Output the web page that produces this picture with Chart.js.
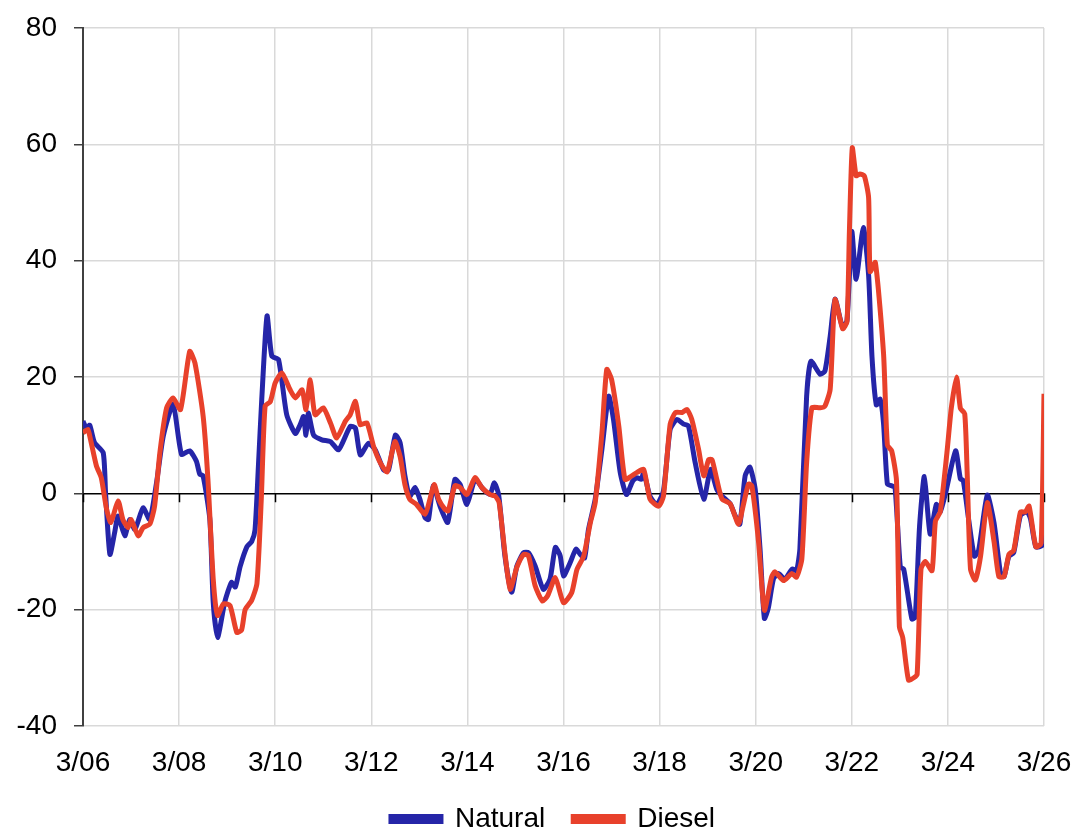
<!DOCTYPE html>
<html>
<head>
<meta charset="utf-8">
<script src="https://cdn.jsdelivr.net/npm/chart.js@4/dist/chart.umd.min.js"></script>
<style>
  html, body { margin: 0; padding: 0; background: #fff; }
  #wrap { width: 1076px; height: 832px; }
</style>
</head>
<body>
<div id="wrap"><canvas id="chart" width="1076" height="832"></canvas></div>
<script>
// x = years since 3/06
const xTickLabels = ['3/06', '3/08', '3/10', '3/12', '3/14', '3/16', '3/18', '3/20', '3/22', '3/24', '3/26'];
const yTicks = [-40, -20, 0, 20, 40, 60, 80];

const natT = [0, 0.07, 0.14, 0.24, 0.42, 0.47, 0.56, 0.66, 0.73, 0.87, 0.97, 1.08, 1.25, 1.39, 1.53, 1.67, 1.875, 2.05, 2.22, 2.36, 2.43, 2.5, 2.64, 2.71, 2.8, 2.95, 3.09, 3.17, 3.27, 3.41, 3.51, 3.58, 3.65, 3.72, 3.83, 3.93, 4.07, 4.24, 4.42, 4.52, 4.59, 4.64, 4.69, 4.8, 4.97, 5.15, 5.32, 5.56, 5.67, 5.77, 5.94, 6.08, 6.26, 6.36, 6.5, 6.6, 6.7, 6.8, 6.91, 7.01, 7.12, 7.19, 7.29, 7.43, 7.59, 7.74, 7.85, 7.99, 8.16, 8.33, 8.47, 8.56, 8.65, 8.78, 8.92, 9.03, 9.17, 9.27, 9.41, 9.58, 9.72, 9.83, 9.93, 10.0, 10.14, 10.26, 10.35, 10.44, 10.52, 10.66, 10.8, 10.94, 11.04, 11.18, 11.31, 11.44, 11.53, 11.62, 11.67, 11.8, 11.94, 12.08, 12.22, 12.36, 12.5, 12.6, 12.74, 12.92, 13.06, 13.19, 13.29, 13.47, 13.57, 13.67, 13.78, 13.88, 13.99, 14.09, 14.18, 14.26, 14.37, 14.47, 14.61, 14.76, 14.85, 14.92, 15.06, 15.15, 15.34, 15.44, 15.55, 15.65, 15.81, 15.9, 16.0, 16.09, 16.24, 16.35, 16.42, 16.51, 16.59, 16.66, 16.74, 16.83, 16.9, 17.01, 17.08, 17.25, 17.32, 17.41, 17.51, 17.63, 17.76, 17.84, 17.95, 18.16, 18.26, 18.32, 18.43, 18.55, 18.64, 18.82, 18.96, 19.1, 19.17, 19.27, 19.37, 19.51, 19.65, 19.72, 19.83, 19.97, 20.0];
const natV = [12.4, 11.3, 11.7, 8.7, 7, 0, -10.5, -6.7, -3.9, -7.3, -4.5, -6.2, -2.5, -4.5, 1.8, 9.8, 15.3, 6.7, 7.3, 5.5, 3.3, 3, -4.5, -18.7, -24.8, -18.7, -15.3, -16.1, -12.6, -9.2, -8.3, -6.3, 4.6, 16.1, 30.5, 23.6, 23, 13.5, 10.3, 11.8, 13.2, 10, 13.8, 10, 9.2, 8.9, 7.5, 11.5, 11.2, 6.6, 8.6, 7.5, 4, 4, 10, 8.7, 3, -0.5, 1, -1, -4.2, -4.5, 1.3, -2.2, -5, 2.4, 1.5, -1.9, 2.4, 0.7, -0.2, 1.8, -0.2, -10.7, -17, -12.5, -10.2, -10.2, -12.5, -16.5, -14.7, -9.3, -10.7, -14.2, -11.9, -9.6, -10.5, -11.1, -6.2, -1, 7.6, 16.7, 12.7, 3.6, -0.2, 2.1, 2.7, 2.4, 3.6, -0.5, -1.9, 0.4, 11, 12.7, 11.9, 11.6, 5.3, -1, 4.1, 0.7, -0.4, -1.8, -3.8, -5.3, 3, 4.5, 0.7, -9.5, -21.5, -19.8, -14.7, -13.8, -14.7, -13, -13.3, -9.5, 16.7, 22.7, 20.5, 21, 27, 33.4, 28.5, 29.7, 45, 36.8, 45.7, 37.5, 23.5, 15.2, 16.2, 12.1, 1.6, 1.3, 1.0, -12.7, -13, -21.6, -21.3, -5.7, 2.9, -7, -1.9, -3.2, 0, 7.3, 2.5, 2.2, -4.4, -10.8, -9.8, -0.3, -5.1, -14, -14.3, -10.8, -10.2, -3.8, -3.2, -4.4, -9.2, -8.9, 4];

const dieT = [0, 0.1, 0.15, 0.28, 0.38, 0.49, 0.58, 0.73, 0.83, 0.94, 1.0, 1.15, 1.25, 1.39, 1.49, 1.6, 1.74, 1.875, 2.03, 2.22, 2.33, 2.5, 2.6, 2.71, 2.8, 2.92, 3.06, 3.2, 3.3, 3.375, 3.51, 3.62, 3.71, 3.79, 3.9, 4.0, 4.14, 4.31, 4.42, 4.56, 4.64, 4.73, 4.83, 5.0, 5.15, 5.28, 5.46, 5.56, 5.67, 5.77, 5.91, 6.05, 6.19, 6.33, 6.49, 6.6, 6.7, 6.8, 6.94, 7.12, 7.22, 7.31, 7.4, 7.53, 7.6, 7.74, 7.85, 7.99, 8.16, 8.3, 8.47, 8.58, 8.66, 8.78, 8.89, 9.03, 9.17, 9.27, 9.41, 9.56, 9.67, 9.83, 10.0, 10.17, 10.28, 10.42, 10.56, 10.66, 10.8, 10.9, 11.0, 11.15, 11.28, 11.42, 11.53, 11.67, 11.8, 11.98, 12.08, 12.22, 12.33, 12.47, 12.57, 12.67, 12.81, 12.92, 13.02, 13.09, 13.19, 13.3, 13.47, 13.64, 13.74, 13.85, 13.92, 14.06, 14.18, 14.33, 14.4, 14.58, 14.75, 14.85, 14.96, 15.06, 15.17, 15.34, 15.44, 15.55, 15.65, 15.81, 15.9, 15.95, 16.01, 16.09, 16.17, 16.26, 16.35, 16.38, 16.49, 16.66, 16.74, 16.83, 16.93, 16.99, 17.06, 17.18, 17.29, 17.36, 17.44, 17.53, 17.67, 17.74, 17.84, 17.98, 18.07, 18.18, 18.26, 18.35, 18.4, 18.47, 18.57, 18.68, 18.82, 18.96, 19.06, 19.17, 19.27, 19.37, 19.51, 19.61, 19.69, 19.83, 19.94, 20.0];
const dieV = [10.4, 11, 9.5, 4.7, 2.7, -2.7, -5, -1.3, -4.5, -5.9, -4.5, -7.3, -5.9, -5.3, -2.2, 7, 14.7, 16.4, 14.4, 24.4, 22.4, 13.3, 2.4, -14.7, -21, -19, -19.3, -23.9, -23.5, -20, -18.4, -15.5, -1.1, 15, 15.8, 19, 20.7, 17.8, 16.4, 17.8, 14.4, 19.5, 13.5, 14.7, 12.1, 9.5, 12.4, 13.5, 15.8, 11.8, 12.1, 8, 5.2, 3.7, 8.9, 6.3, 1.5, -1, -1.9, -3.6, -1, 1.5, -1, -2.7, -3, 1.3, 1, -0.2, 2.7, 1, -0.2, -0.5, -1.6, -10.2, -16.5, -12.7, -10.5, -10.7, -15.9, -18.5, -17.6, -14.5, -18.8, -17.1, -13.1, -10.8, -5, -1.6, 10.4, 21.3, 19.6, 11.6, 2.4, 3, 3.6, 4.1, -1, -2.2, -0.5, 11.9, 13.9, 13.9, 14.4, 12.7, 7.6, 3, 5.8, 5.8, 2.4, -1, -1.8, -5.3, -2.1, 1.6, 1.3, -8.4, -20.1, -14.4, -13.5, -15, -13.8, -14.4, -11.3, 5.3, 14.7, 14.7, 15, 17.9, 33.3, 28.3, 29.5, 45, 59.4, 54.6, 54.9, 54.6, 50.8, 38.1, 39.7, 24.1, 8.3, 7.3, 2.2, -22.9, -24.8, -32.1, -31.7, -31.1, -13, -11.7, -13.3, -4.8, -3.2, 7, 14.6, 20, 14.6, 13.7, 3.8, -13, -14.9, -10.8, -1.6, -8.3, -14.3, -14.3, -10.5, -9.8, -3.2, -3.2, -2.2, -9.2, -8.6, 17.1];

const BLUE = '#2525a8';
const RED = '#e8412b';
const GRID = '#d9d9d9';
const FONT = "'Liberation Sans', Arial, sans-serif";

// small tick marks hanging under the zero line (Excel style axis crossing)
const zeroTicks = {
    id: 'zeroTicks',
    beforeDatasetsDraw(chart) {
        const { ctx, scales: { x, y } } = chart;
        const y0 = y.getPixelForValue(0);
        ctx.save();
        ctx.strokeStyle = '#000';
        ctx.lineWidth = 1.5;
        ctx.beginPath();
        x.ticks.forEach(t => {
            const px = Math.round(x.getPixelForValue(t.value)) + 0.5;
            ctx.moveTo(px, y0);
            ctx.lineTo(px, y0 + 9);
        });
        ctx.stroke();
        ctx.restore();
    }
};

// legend sits a bit right of the canvas centre in the original
const legendShift = {
    id: 'legendShift',
    afterLayout(chart) {
        chart.legend.left += 31;
        chart.legend.right += 31;
    }
};

new Chart(document.getElementById('chart'), {
    type: 'line',
    data: {
        datasets: [
            {
                label: 'Natural',
                data: natT.map((t, i) => ({ x: t, y: natV[i] })),
                borderColor: BLUE,
                backgroundColor: BLUE,
                borderWidth: 5,
                pointRadius: 0,
                tension: 0.2,
                order: 1
            },
            {
                label: 'Diesel',
                data: dieT.map((t, i) => ({ x: t, y: dieV[i] })),
                borderColor: RED,
                backgroundColor: RED,
                borderWidth: 5,
                pointRadius: 0,
                tension: 0.2,
                order: 0
            }
        ]
    },
    options: {
        responsive: false,
        animation: false,
        layout: { padding: { left: 0, right: 32, top: 28, bottom: 0 } },
        plugins: {
            tooltip: { enabled: false },
            legend: {
                position: 'bottom',
                maxHeight: 55,
                labels: {
                    sort: (a, b) => a.datasetIndex - b.datasetIndex,
                    boxWidth: 50,
                    boxHeight: 5,
                    padding: 28,
                    color: '#000',
                    font: { family: FONT, size: 28 }
                }
            }
        },
        scales: {
            x: {
                type: 'linear',
                min: 0,
                max: 20,
                afterFit: s => { s.height = 51; s.paddingLeft = 0; s.paddingRight = 0; },
                afterBuildTicks: s => { s.ticks = xTickLabels.map((_, i) => ({ value: i * 2 })); },
                grid: { color: GRID, lineWidth: 1.5, drawTicks: false },
                border: { display: false },
                ticks: {
                    padding: 20,
                    maxRotation: 0,
                    autoSkip: false,
                    color: '#000',
                    font: { family: FONT, size: 28 },
                    callback: (v) => xTickLabels[Math.round(v / 2)]
                }
            },
            y: {
                min: -40,
                max: 80,
                afterFit: s => { s.width = 83; s.paddingTop = 0; s.paddingBottom = 0; },
                afterBuildTicks: s => { s.ticks = yTicks.map(v => ({ value: v })); },
                grid: {
                    color: c => (c.tick && c.tick.value === 0 ? '#000' : GRID),
                    lineWidth: 1.5,
                    tickColor: '#404040',
                    tickLength: 9
                },
                border: { display: true, color: '#404040', width: 2 },
                ticks: {
                    padding: 17,
                    color: '#000',
                    font: { family: FONT, size: 28 },
                    callback: (v) => String(v)
                }
            }
        }
    },
    plugins: [zeroTicks, legendShift]
});
</script>
</body>
</html>
